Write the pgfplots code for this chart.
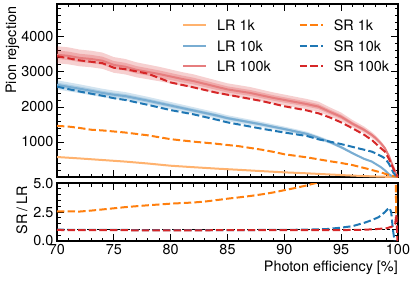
\documentclass[border=0pt]{standalone}
\usepackage{pgfplots}
\pgfplotsset{compat=1.18}
\usepackage{pgfplotstable}
\usepgfplotslibrary{fillbetween}
\usepackage{fontspec}
\setmainfont{TeX Gyre Heros}
\definecolor{cOr}{HTML}{FF7F0E}
\definecolor{cBl}{HTML}{1F77B4}
\definecolor{cRd}{HTML}{D62728}
\definecolor{lOr}{RGB}{255,178,110}
\definecolor{lBl}{RGB}{121,173,210}
\definecolor{lRd}{RGB}{230,125,126}

\pgfplotstableread{
x y
70 571
72 530
74 485
76 440
78 385
80 322
82 280
84 240
86 205
88 168
90 133
92 105
94 72
96 40
98 15
99 6
100 0
}\lrA

\pgfplotstableread{
x y lo2 hi2 lo1 hi1
70 2630 2499 2762 2564 2696
72 2520 2394 2646 2457 2583
74 2400 2280 2520 2340 2460
75 2350 2233 2468 2291 2409
76 2310 2195 2426 2252 2368
78 2180 2071 2289 2126 2235
80 2040 1938 2142 1989 2091
82 1900 1805 1995 1853 1948
84 1760 1672 1848 1716 1804
85 1680 1596 1764 1638 1722
86 1620 1539 1701 1580 1661
88 1500 1425 1575 1463 1538
90 1370 1302 1439 1336 1404
92 1230 1169 1292 1199 1261
93 1120 1064 1176 1092 1148
94 1000 950 1050 975 1025
95 850 808 893 829 871
96 680 646 714 663 697
97 520 494 546 507 533
97.7 440 418 462 429 451
98 380 361 399 371 390
98.5 280 266 294 273 287
98.85 190 181 200 185 195
99.2 80 76 84 78 82
99.5 20 19 21 20 21
100 0 0 0 0 0
}\lrB

\pgfplotstableread{
x y lo2 hi2 lo1 hi1
70 3490 3246 3734 3368 3612
71 3460 3218 3702 3339 3581
72 3400 3162 3638 3281 3519
73 3370 3134 3606 3252 3488
74 3320 3088 3552 3204 3436
75 3200 2976 3424 3088 3312
76 3150 2930 3370 3040 3260
77 3060 2846 3274 2953 3167
78 3000 2790 3210 2895 3105
79 2940 2734 3146 2837 3043
80 2870 2669 3071 2770 2970
81 2800 2604 2996 2702 2898
82 2740 2548 2932 2644 2836
83 2660 2474 2846 2567 2753
84 2580 2399 2761 2490 2670
85 2500 2325 2675 2413 2588
86 2450 2279 2622 2364 2536
87 2400 2232 2568 2316 2484
88 2330 2167 2493 2248 2412
89 2260 2102 2418 2181 2339
90 2200 2046 2354 2123 2277
91 2140 1990 2290 2065 2215
92 2080 1934 2226 2007 2153
93 2010 1869 2151 1940 2080
94 1860 1730 1990 1795 1925
95 1720 1600 1840 1660 1780
96 1520 1414 1626 1467 1573
97 1350 1256 1445 1303 1397
97.7 1200 1116 1284 1158 1242
98 1120 1042 1198 1081 1159
98.5 960 893 1027 926 994
98.85 820 763 877 791 849
99.2 600 558 642 579 621
99.5 350 326 375 338 362
99.7 200 186 214 193 207
99.85 80 74 86 77 83
100 0 0 0 0 0
}\lrC

\pgfplotstableread{
x y
70 1460
71 1440
72 1400
73 1350
74 1330
75 1300
76 1270
78 1190
80 1080
82 1010
84 950
85 914
86 880
88 780
89 720
90 650
92 560
93 505
94 450
95 400
96 340
97 260
97.7 200
98.5 130
99.2 57
99.6 25
100 0
}\srA

\pgfplotstableread{
x y
70 2580
72 2440
74 2320
75 2250
76 2200
78 2060
80 1910
82 1790
84 1640
85 1560
86 1500
88 1380
90 1270
92 1170
93 1076
94 1010
95 940
96 860
97 780
97.7 724
98 680
98.5 600
98.85 533
99.2 380
99.4 257
99.6 120
99.8 40
100 0
}\srB

\pgfplotstableread{
x y
70 3450
72 3330
74 3250
75 3120
76 3080
78 2950
80 2700
82 2560
84 2410
86 2290
88 2170
90 2020
92 1900
93 1820
94 1700
95 1560
96 1390
97 1210
97.7 1057
98.5 820
98.85 724
99.2 520
99.5 300
99.8 100
100 0
}\srC

\pgfplotstableread{
x y
70 2.56
71 2.56
72 2.54
73 2.62
74 2.72
75 2.82
76 2.92
77 3.00
78 3.08
79 3.15
80 3.22
81 3.27
82 3.32
83 3.40
84 3.52
85 3.65
86 3.76
87 3.88
88 4.02
89 4.18
90 4.38
91 4.58
92 4.80
93 5.06
94 5.4
96 6.3
98 7.5
99.5 9
99.75 9
99.85 1.8
}\rtA

\pgfplotstableread{
x y
70 0.98
72 0.96
74 0.95
76 0.95
78 0.94
80 0.93
82 0.93
84 0.93
86 0.94
88 0.95
90 0.96
92 0.98
93.6 1.02
95 1.15
96 1.28
97.1 1.59
97.7 1.80
98.3 2.06
98.8 2.45
99.1 2.75
99.25 2.86
99.4 2.5
99.55 1.0
99.7 0.0
}\rtB

\pgfplotstableread{
x y
70 0.95
75 0.93
80 0.92
85 0.93
90 0.93
95 0.94
97 0.97
98 1.02
99 1.1
99.5 1.25
99.75 1.45
99.85 2.3
99.95 0
}\rtC

\begin{document}
\begin{tikzpicture}
\pgfplotsset{
  mystyle/.style={
    scale only axis, width=341pt,
    xmin=70, xmax=100,
    tick align=inside, xtick pos=both, ytick pos=both,
    xticklabel pos=lower, yticklabel pos=left,
    major tick length=7pt, minor tick length=3.5pt,
    axis line style={line width=1.2pt},
    tick style={line width=0.9pt, black},
    tick label style={font=\fontsize{14.4}{17}\selectfont},
    label style={font=\fontsize{14.4}{17}\selectfont},
    xtick={70,75,...,100}, minor xtick={71,...,99},
    line cap=butt,
  },
  lr/.style={line width=2pt, #1},
  sr/.style={line width=2pt, dash pattern=on 7.4pt off 3.2pt, #1},
}
\begin{axis}[mystyle, at={(57pt,105pt)}, anchor=south west, height=173pt,
  ymin=0, ymax=4940,
  ytick={1000,2000,3000,4000}, yticklabels={1000,2000,3000,4000},
  minor ytick={200,400,...,4800},
  xticklabels={},
  ylabel={Pion rejection},
  ylabel style={at={(axis description cs:-0.1305,1.005)}, anchor=east},
  legend columns=3, transpose legend, legend cell align=left,
  legend style={draw=none, fill=none, at={(rel axis cs:0.3666,0.9075)}, anchor=north west,
    inner sep=0pt, row sep=10.2pt,
    nodes={inner xsep=0pt, inner ysep=0pt, text height=10.3pt, text depth=0pt, font=\fontsize{14.4}{17}\selectfont},
    /tikz/every odd column/.style={column sep=10pt},
    /tikz/every even column/.style={column sep=28pt}},
  legend image code/.code={\draw[#1] (0pt,0pt) -- (23pt,0pt);},
]
% bands
\addplot[name path=b2lo, draw=none, forget plot] table[x=x,y=lo2]{\lrB};
\addplot[name path=b2hi, draw=none, forget plot] table[x=x,y=hi2]{\lrB};
\addplot[fill=cBl, fill opacity=0.2, draw=none, forget plot] fill between[of=b2lo and b2hi];
\addplot[name path=b1lo, draw=none, forget plot] table[x=x,y=lo1]{\lrB};
\addplot[name path=b1hi, draw=none, forget plot] table[x=x,y=hi1]{\lrB};
\addplot[fill=cBl, fill opacity=0.2, draw=none, forget plot] fill between[of=b1lo and b1hi];
\addplot[name path=c2lo, draw=none, forget plot] table[x=x,y=lo2]{\lrC};
\addplot[name path=c2hi, draw=none, forget plot] table[x=x,y=hi2]{\lrC};
\addplot[fill=cRd, fill opacity=0.22, draw=none, forget plot] fill between[of=c2lo and c2hi];
\addplot[name path=c1lo, draw=none, forget plot] table[x=x,y=lo1]{\lrC};
\addplot[name path=c1hi, draw=none, forget plot] table[x=x,y=hi1]{\lrC};
\addplot[fill=cRd, fill opacity=0.22, draw=none, forget plot] fill between[of=c1lo and c1hi];
% lines
\addplot[lr=lOr] table[x=x,y=y]{\lrA};
\addlegendentry{LR 1k}
\addplot[lr=lBl] table[x=x,y=y]{\lrB};
\addlegendentry{LR 10k}
\addplot[lr=lRd] table[x=x,y=y]{\lrC};
\addlegendentry{LR 100k}
\addplot[sr=cOr] table[x=x,y=y]{\srA};
\addlegendentry{SR 1k}
\addplot[sr=cBl] table[x=x,y=y]{\srB};
\addlegendentry{SR 10k}
\addplot[sr=cRd] table[x=x,y=y]{\srC};
\addlegendentry{SR 100k}
\end{axis}

\begin{axis}[mystyle, at={(57pt,41pt)}, anchor=south west, height=58pt,
  ymin=0, ymax=5,
  ytick={0,2.5,5}, yticklabels={0.0,2.5,5.0},
  minor ytick={0.5,1,...,4.5},
  xticklabels={70,75,80,85,90,95,100},
  ylabel={SR\hspace{2.6pt}/\hspace{2.6pt}LR},
  ylabel style={at={(axis description cs:-0.1026,1)}, anchor=east},
  xlabel={Photon efficiency [\%]},
  xlabel style={at={(rel axis cs:1,0)}, anchor=north east, inner sep=0pt, yshift=-19.5pt},
]
\addplot[black, line width=0.8pt, dash pattern=on 3pt off 2pt] coordinates {(70,1) (100,1)};
\addplot[sr=cOr] table[x=x,y=y]{\rtA};
\addplot[sr=cBl] table[x=x,y=y]{\rtB};
\addplot[sr=cRd] table[x=x,y=y]{\rtC};
\end{axis}
\path (0pt,0pt) rectangle (415pt,282pt);
\end{tikzpicture}
\end{document}
